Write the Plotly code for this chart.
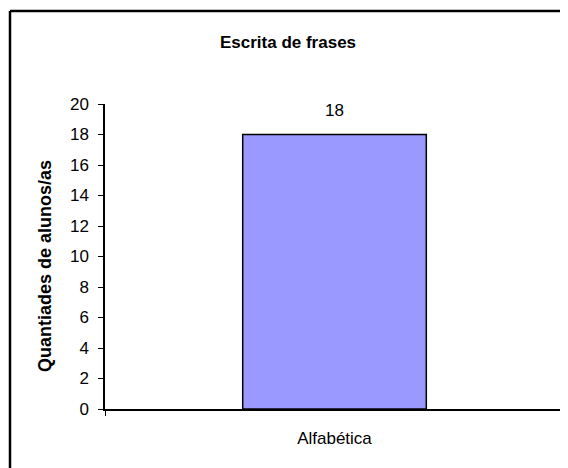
import plotly.graph_objects as go

# ─── Data ────────────────────────────────────────────────────────────────────
categories = ["Alfabética"]
values = [18]
y_ticks = [0, 2, 4, 6, 8, 10, 12, 14, 16, 18, 20]

BAR_COLOR = "#9999FF"
FONT = "Liberation Sans, Arial, sans-serif"

# plot area in figure pixels (page body adds an 8px offset)
W, H = 560, 460
L, R, T, B = 97, 4, 96, 59
PW, PH = W - L - R, H - T - B

fig = go.Figure(go.Bar(
    x=categories,
    y=values,
    width=0.4,
    marker=dict(color=BAR_COLOR, line=dict(color="black", width=1.5)),
    hoverinfo="x+y",
))

# value label above the bar
for c, v in zip(categories, values):
    fig.add_annotation(
        x=c, y=v, text=str(v), showarrow=False,
        yanchor="bottom", yshift=13,
        font=dict(size=17, color="black", family=FONT),
    )

# y-axis title
fig.add_annotation(
    xref="paper", yref="paper",
    x=(37 - L) / PW, y=(H - B - 258) / PH,
    text="<b>Quantiades de alunos/as</b>", textangle=-90,
    showarrow=False, xanchor="center", yanchor="middle",
    font=dict(size=18, color="black", family=FONT),
)

# outer chart border: only the left and top edges are inside the picture
bx0 = (2 - L) / PW
by1 = (H - B - 3) / PH
for x0, y0, x1, y1 in [(bx0, -0.5, bx0, by1), (bx0, by1, 1.2, by1)]:
    fig.add_shape(
        type="line", xref="paper", yref="paper",
        x0=x0, y0=y0, x1=x1, y1=y1,
        line=dict(color="black", width=2.5),
        layer="below",
    )

fig.update_layout(
    width=W, height=H,
    margin=dict(l=L, r=R, t=T, b=B),
    paper_bgcolor="white",
    plot_bgcolor="white",
    font=dict(family=FONT, color="black", size=17),
    title=dict(
        text="<b>Escrita de frases</b>",
        font=dict(size=17, color="black", family=FONT),
        x=280 / W, xanchor="center", xref="container",
        y=1 - 34 / H, yanchor="middle", yref="container",
    ),
    showlegend=False,
    xaxis=dict(
        type="category",
        range=[-0.5, 0.5],
        showline=True, linecolor="black", linewidth=1.5,
        ticks="outside", tickson="boundaries", ticklen=5, tickcolor="black",
        ticklabelstandoff=13,
        showgrid=False, zeroline=False,
        tickfont=dict(size=17),
    ),
    yaxis=dict(
        range=[0, 20],
        tickvals=y_ticks,
        showline=True, linecolor="black", linewidth=1.5,
        ticks="outside", ticklen=5, tickcolor="black",
        ticklabelstandoff=6,
        showgrid=False, zeroline=False,
        tickfont=dict(size=17),
    ),
)

fig.write_html("out.html")
